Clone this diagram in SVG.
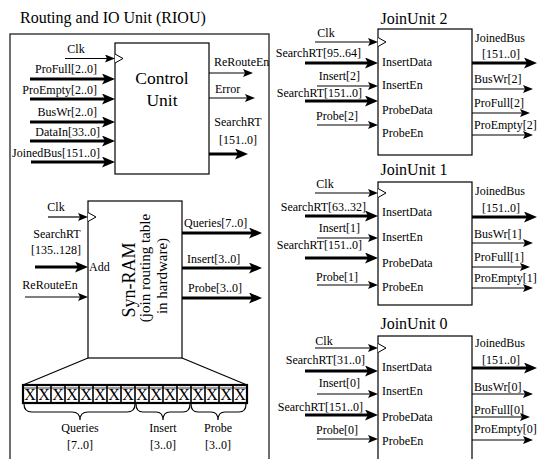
<svg xmlns="http://www.w3.org/2000/svg" width="544" height="459" viewBox="0 0 544 459">
<defs>
<style>
.t{font-family:"Liberation Serif","Times New Roman",serif;font-size:12px;fill:#000}
.h{font-family:"Liberation Serif","Times New Roman",serif;font-size:16px;fill:#000}
.m{text-anchor:middle}
.box{fill:#fff;stroke:#000;stroke-width:1.2}
.thin{stroke:#000;stroke-width:1.2;fill:none;marker-end:url(#ah)}
.thick{stroke:#000;stroke-width:3;fill:none;marker-end:url(#ahT)}
.ln{stroke:#000;stroke-width:1.2;fill:none}
.clk{fill:#fff;stroke:#000;stroke-width:1}
</style>
<marker id="ah" markerUnits="userSpaceOnUse" markerWidth="10" markerHeight="8" refX="2" refY="4" orient="auto"><path d="M0,0 L10,4 L0,8 L2,4 z" fill="#000"/></marker>
<marker id="ahT" markerUnits="userSpaceOnUse" markerWidth="13" markerHeight="11" refX="3" refY="5.5" orient="auto"><path d="M0,0 L13,5.5 L0,11 L3,5.5 z" fill="#000"/></marker>
</defs>
<rect width="544" height="459" fill="#fff"/>

<g id="riou">
<rect x="10" y="34" width="259" height="440" fill="none" stroke="#222" stroke-width="1.3"/>
<text class="h" x="20" y="23">Routing and IO Unit (RIOU)</text>
</g>

<g id="control-unit">
<rect class="box" x="115" y="43" width="94" height="131"/>
<path class="clk" d="M115,54 L123,58.5 L115,63"/>
<text class="h m" x="162" y="84" style="font-size:17.5px">Control</text>
<text class="h m" x="162" y="106" style="font-size:17.5px">Unit</text>
</g>

<g id="syn-ram">
<rect class="box" x="88" y="201" width="94" height="157"/>
<path class="clk" d="M88,212.5 L96,217 L88,221.5"/>
<text class="t" x="89" y="271">Add</text>
<text class="h m" transform="translate(135,280) rotate(-90)" style="font-size:18px">Syn-RAM</text>
<text class="h m" transform="translate(150,268) rotate(-90)" style="font-size:15px">(join routing table</text>
<text class="h m" transform="translate(167,276) rotate(-90)" style="font-size:15px">in hardware)</text>
<path class="ln" d="M88,358 L23,385 M182,358 L247,385"/>
</g>

<g id="register">
<rect x="23" y="385" width="224" height="18" fill="#fff" stroke="#000" stroke-width="2.2"/>
<line x1="23" y1="388" x2="247" y2="388" stroke="#000" stroke-width="0.8"/>
<g stroke="#000" stroke-width="1.6">
<line x1="37" y1="385" x2="37" y2="403"/><line x1="51" y1="385" x2="51" y2="403"/><line x1="65" y1="385" x2="65" y2="403"/><line x1="79" y1="385" x2="79" y2="403"/><line x1="93" y1="385" x2="93" y2="403"/><line x1="107" y1="385" x2="107" y2="403"/><line x1="121" y1="385" x2="121" y2="403"/><line x1="135" y1="385" x2="135" y2="403"/><line x1="149" y1="385" x2="149" y2="403"/><line x1="163" y1="385" x2="163" y2="403"/><line x1="177" y1="385" x2="177" y2="403"/><line x1="191" y1="385" x2="191" y2="403"/><line x1="205" y1="385" x2="205" y2="403"/><line x1="219" y1="385" x2="219" y2="403"/><line x1="233" y1="385" x2="233" y2="403"/>
</g>
<g class="t m" style="font-size:16px">
<text class="t m" style="font-size:16px" x="30" y="400">X</text><text class="t m" style="font-size:16px" x="44" y="400">X</text><text class="t m" style="font-size:16px" x="58" y="400">X</text><text class="t m" style="font-size:16px" x="72" y="400">X</text><text class="t m" style="font-size:16px" x="86" y="400">X</text><text class="t m" style="font-size:16px" x="100" y="400">X</text><text class="t m" style="font-size:16px" x="114" y="400">X</text><text class="t m" style="font-size:16px" x="128" y="400">X</text><text class="t m" style="font-size:16px" x="142" y="400">X</text><text class="t m" style="font-size:16px" x="156" y="400">X</text><text class="t m" style="font-size:16px" x="170" y="400">X</text><text class="t m" style="font-size:16px" x="184" y="400">X</text><text class="t m" style="font-size:16px" x="198" y="400">X</text><text class="t m" style="font-size:16px" x="212" y="400">X</text><text class="t m" style="font-size:16px" x="226" y="400">X</text><text class="t m" style="font-size:16px" x="240" y="400">X</text>
</g>
<path class="ln" d="M24,404 Q24,412 32,412 L72,412 Q80,412 80,420 Q80,412 88,412 L127,412 Q135,412 135,404"/>
<path class="ln" d="M136,404 Q136,412 143,412 L156,412 Q163,412 163,420 Q163,412 170,412 L183,412 Q190,412 190,404"/>
<path class="ln" d="M191,404 Q191,412 198,412 L211,412 Q218,412 218,420 Q218,412 225,412 L239,412 Q246,412 246,404"/>
<text class="t m" x="80" y="432">Queries</text><text class="t m" x="80" y="449">[7..0]</text>
<text class="t m" x="163" y="432">Insert</text><text class="t m" x="163" y="449">[3..0]</text>
<text class="t m" x="218" y="432">Probe</text><text class="t m" x="218" y="449">[3..0]</text>
</g>

<g id="joinunit2">
<text class="h m" x="414" y="24">JoinUnit 2</text>
<rect class="box" x="378" y="29" width="94" height="126"/>
<path class="clk" d="M378,37.5 L386,42 L378,46.5"/>
<text class="t" x="382" y="66">InsertData</text>
<text class="t" x="382" y="89">InsertEn</text>
<text class="t" x="382" y="114">ProbeData</text>
<text class="t" x="382" y="137">ProbeEn</text>
</g>

<g id="joinunit1">
<text class="h m" x="414" y="175">JoinUnit 1</text>
<rect class="box" x="378" y="182" width="94" height="123"/>
<path class="clk" d="M378,188.5 L386,193 L378,197.5"/>
<text class="t" x="382" y="216">InsertData</text>
<text class="t" x="382" y="241">InsertEn</text>
<text class="t" x="382" y="267">ProbeData</text>
<text class="t" x="382" y="291">ProbeEn</text>
</g>

<g id="joinunit0">
<text class="h m" x="414" y="329">JoinUnit 0</text>
<rect class="box" x="378" y="336" width="94" height="140"/>
<path class="clk" d="M378,343.5 L386,348 L378,352.5"/>
<text class="t" x="382" y="371">InsertData</text>
<text class="t" x="382" y="395">InsertEn</text>
<text class="t" x="382" y="421">ProbeData</text>
<text class="t" x="382" y="445">ProbeEn</text>
</g>

<g id="connectors">
<!-- Control unit inputs -->
<line class="thin" x1="65" y1="58.5" x2="107" y2="58.5"/>
<line class="thick" x1="30" y1="79" x2="105" y2="79"/>
<line class="thick" x1="30" y1="99" x2="105" y2="99"/>
<line class="thick" x1="30" y1="122" x2="105" y2="122"/>
<line class="thick" x1="30" y1="141" x2="105" y2="141"/>
<line class="thick" x1="31" y1="162" x2="105" y2="162"/>
<!-- Control unit outputs -->
<line class="thin" x1="209" y1="73" x2="245" y2="73"/>
<line class="thin" x1="209" y1="98" x2="247" y2="98"/>
<line class="thick" x1="209" y1="154" x2="238" y2="154"/>
<!-- Syn-RAM inputs -->
<line class="thin" x1="48" y1="217" x2="80" y2="217"/>
<line class="thick" x1="35" y1="267" x2="78" y2="267"/>
<line class="thin" x1="25" y1="297" x2="80" y2="297"/>
<!-- Syn-RAM outputs -->
<line class="thick" x1="182" y1="233" x2="252" y2="233"/>
<line class="thick" x1="182" y1="268" x2="252" y2="268"/>
<line class="thick" x1="182" y1="298" x2="252" y2="298"/>
<!-- JoinUnit 2 -->
<line class="thin" x1="315" y1="42" x2="370" y2="42"/>
<line class="thick" x1="305" y1="63" x2="368" y2="63"/>
<line class="thin" x1="317" y1="86" x2="370" y2="86"/>
<line class="thick" x1="305" y1="101" x2="368" y2="101"/>
<line class="thin" x1="317" y1="125" x2="370" y2="125"/>
<line class="thick" x1="472" y1="63" x2="527" y2="63"/>
<line class="thin" x1="472" y1="89" x2="525" y2="89"/>
<line class="thin" x1="472" y1="113" x2="522" y2="113"/>
<line class="thin" x1="472" y1="135" x2="525" y2="135"/>
<!-- JoinUnit 1 -->
<line class="thin" x1="315" y1="193" x2="370" y2="193"/>
<line class="thick" x1="305" y1="216" x2="368" y2="216"/>
<line class="thin" x1="317" y1="238" x2="370" y2="238"/>
<line class="thick" x1="305" y1="258" x2="368" y2="258"/>
<line class="thin" x1="317" y1="285" x2="370" y2="285"/>
<line class="thick" x1="472" y1="217" x2="527" y2="217"/>
<line class="thin" x1="472" y1="243" x2="525" y2="243"/>
<line class="thin" x1="472" y1="267" x2="522" y2="267"/>
<line class="thin" x1="472" y1="288" x2="525" y2="288"/>
<!-- JoinUnit 0 -->
<line class="thin" x1="315" y1="348" x2="370" y2="348"/>
<line class="thick" x1="305" y1="371" x2="368" y2="371"/>
<line class="thin" x1="317" y1="394" x2="370" y2="394"/>
<line class="thick" x1="305" y1="415" x2="368" y2="415"/>
<line class="thin" x1="317" y1="439" x2="370" y2="439"/>
<line class="thick" x1="472" y1="368" x2="527" y2="368"/>
<line class="thin" x1="472" y1="394" x2="525" y2="394"/>
<line class="thin" x1="472" y1="417" x2="522" y2="417"/>
<line class="thin" x1="472" y1="440" x2="525" y2="440"/>
</g>

<g id="connector-labels">
<text class="t m" x="76" y="53">Clk</text>
<text class="t" x="97" y="73" text-anchor="end">ProFull[2..0]</text>
<text class="t" x="97" y="94" text-anchor="end">ProEmpty[2..0]</text>
<text class="t" x="97" y="116" text-anchor="end">BusWr[2..0]</text>
<text class="t" x="100" y="136" text-anchor="end">DataIn[33..0]</text>
<text class="t" x="100" y="157" text-anchor="end">JoinedBus[151..0]</text>
<text class="t" x="214" y="66">ReRouteEn</text>
<text class="t" x="215" y="93">Error</text>
<text class="t m" x="238" y="126">SearchRT</text>
<text class="t m" x="238" y="144">[151..0]</text>
<text class="t m" x="56" y="211">Clk</text>
<text class="t m" x="57" y="238">SearchRT</text>
<text class="t m" x="56" y="254">[135..128]</text>
<text class="t m" x="50" y="289">ReRouteEn</text>
<text class="t" x="184" y="227">Queries[7..0]</text>
<text class="t" x="187" y="263">Insert[3..0]</text>
<text class="t" x="188" y="292">Probe[3..0]</text>

<text class="t m" x="326" y="37">Clk</text>
<text class="t" x="361" y="57" text-anchor="end">SearchRT[95..64]</text>
<text class="t" x="360" y="80" text-anchor="end">Insert[2]</text>
<text class="t" x="362" y="97" text-anchor="end">SearchRT[151..0]</text>
<text class="t" x="358" y="120" text-anchor="end">Probe[2]</text>
<text class="t m" x="500" y="42">JoinedBus</text>
<text class="t m" x="501" y="58">[151..0]</text>
<text class="t" x="474" y="83">BusWr[2]</text>
<text class="t" x="474" y="107">ProFull[2]</text>
<text class="t" x="474" y="129">ProEmpty[2]</text>

<text class="t m" x="325" y="188">Clk</text>
<text class="t" x="366" y="211" text-anchor="end">SearchRT[63..32]</text>
<text class="t" x="360" y="232" text-anchor="end">Insert[1]</text>
<text class="t" x="362" y="249" text-anchor="end">SearchRT[151..0]</text>
<text class="t" x="358" y="281" text-anchor="end">Probe[1]</text>
<text class="t m" x="500" y="195">JoinedBus</text>
<text class="t m" x="501" y="212">[151..0]</text>
<text class="t" x="474" y="238">BusWr[1]</text>
<text class="t" x="474" y="261">ProFull[1]</text>
<text class="t" x="474" y="282">ProEmpty[1]</text>

<text class="t m" x="324" y="345">Clk</text>
<text class="t" x="365" y="364" text-anchor="end">SearchRT[31..0]</text>
<text class="t" x="360" y="387" text-anchor="end">Insert[0]</text>
<text class="t" x="363" y="411" text-anchor="end">SearchRT[151..0]</text>
<text class="t" x="358" y="434" text-anchor="end">Probe[0]</text>
<text class="t m" x="500" y="347">JoinedBus</text>
<text class="t m" x="501" y="364">[151..0]</text>
<text class="t" x="474" y="391">BusWr[0]</text>
<text class="t" x="474" y="414">ProFull[0]</text>
<text class="t" x="474" y="433">ProEmpty[0]</text>
</g>
</svg>
